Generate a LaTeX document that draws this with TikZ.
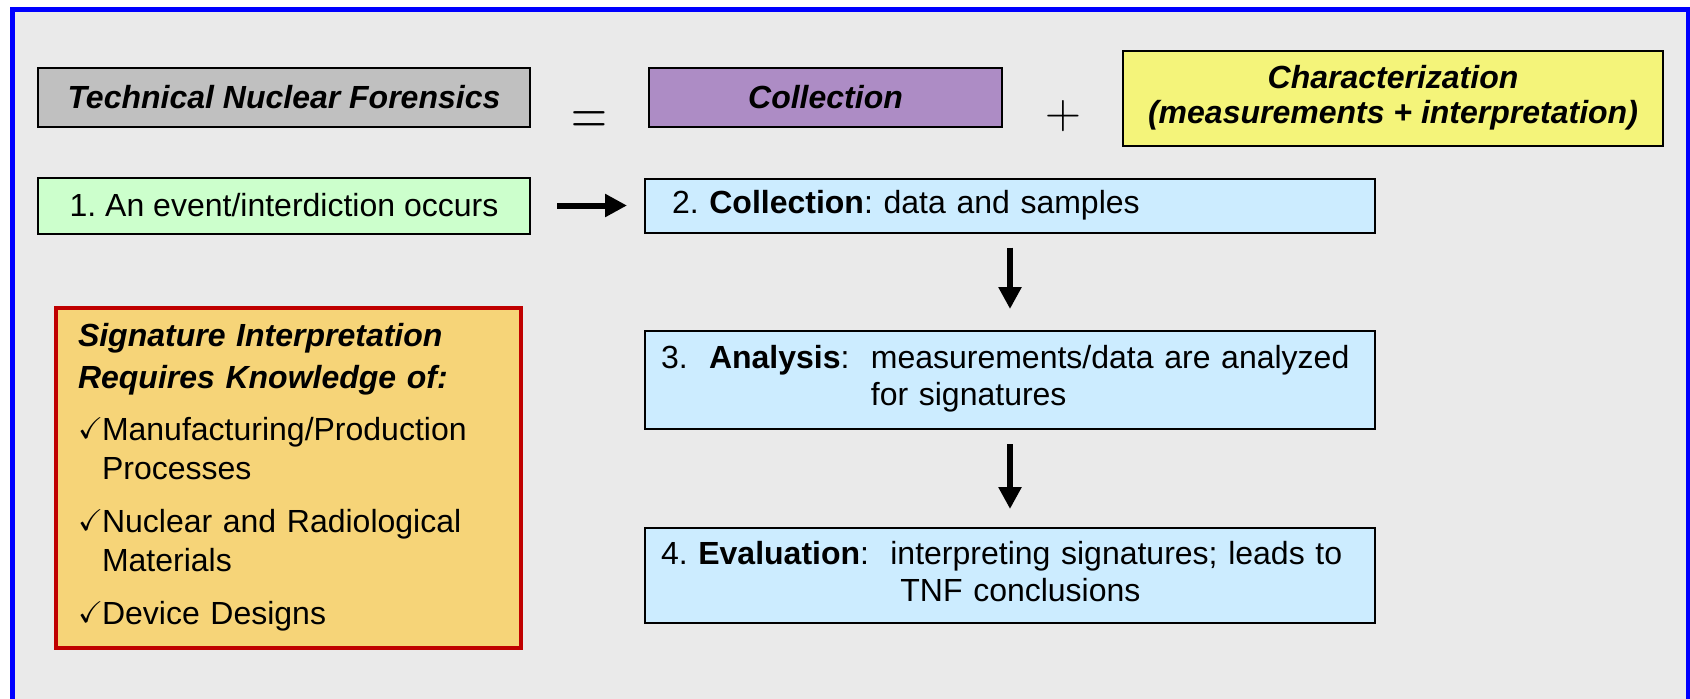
\documentclass[tikz,border=0pt]{standalone}
\usepackage[no-math]{fontspec}
\setmainfont{Liberation Sans}
\usepackage{amssymb}
\usepackage{graphicx}
\usetikzlibrary{arrows.meta}
\definecolor{bgfill}{HTML}{EAEAEA}
\definecolor{frameblue}{HTML}{0000FF}
\definecolor{tnfgray}{HTML}{C0C0C0}
\definecolor{collpurple}{HTML}{AD8CC5}
\definecolor{charyellow}{HTML}{F4F47A}
\definecolor{eventgreen}{HTML}{CCFFCC}
\definecolor{stepblue}{HTML}{CCECFF}
\definecolor{knoworange}{HTML}{F6D478}
\definecolor{knowred}{HTML}{C00000}
\newcommand{\chk}{\makebox[12pt][l]{\raisebox{1pt}{\fontsize{15}{15}\selectfont$\checkmark$}}}
\begin{document}
\frenchspacing
\begin{tikzpicture}[x=0.5pt,y=-0.5pt,
  every node/.style={font=\fontsize{16}{18.5}\selectfont},
  box/.style={draw=black, line width=1pt, inner sep=0pt, align=center},
  stepbox/.style={box, fill=stepblue, text width=349pt, inner xsep=8pt, align=left},
  flow/.style={line width=3pt, -{Triangle[length=11pt,width=11pt]}}]
\useasboundingbox (0,0) rectangle (1690,698);
\clip (0,0) rectangle (1690,698);
\fill[bgfill] (12,9) rectangle (1688,760);
\draw[frameblue, line width=2.5pt] (12,760) -- (12,9) -- (1688,9) -- (1688,760);

\node[box, fill=tnfgray, minimum width=246pt, minimum height=29.5pt] (tnf) at (284,97.5) {\textbf{\textit{Technical Nuclear Forensics}}};
\node (eq) at (589,124) {\scalebox{1}[1.35]{\fontsize{25}{25}\selectfont$=$}};
\node[box, fill=collpurple, minimum width=176.5pt, minimum height=29.5pt] (coll) at (825.5,97.5) {\textbf{\textit{Collection}}};
\node (plus) at (1063,116) {\fontsize{27}{27}\selectfont$+$};
\node[box, fill=charyellow, minimum width=270pt, minimum height=47.5pt, font=\fontsize{16}{17.5}\selectfont] (char) at (1393,98) {\textbf{\textit{Characterization}}\\\textbf{\textit{(measurements + interpretation)}}};

\node[box, fill=eventgreen, minimum width=246pt, minimum height=28pt] (event) at (284,205.5) {1. An event/interdiction occurs};
\node[stepbox, minimum height=27pt] (collect) at (1010,205.5) {\hspace*{5.5pt}2. \textbf{Collection}: data and samples};
\node[stepbox, minimum height=49pt] (analysis) at (1010,380) {\begin{tabular}{@{}l@{}l@{}}3.~~\textbf{Analysis}:~~ & measurements/data are analyzed\\ & for signatures\end{tabular}};
\node[stepbox, minimum height=47.5pt] (eval) at (1010,575.5) {\begin{tabular}{@{}l@{}l@{}}4. \textbf{Evaluation}:~~ & interpreting signatures; leads to\\ & \hspace{5pt}TNF conclusions\end{tabular}};

\node[draw=knowred, line width=2pt, fill=knoworange, minimum width=232.5pt, minimum height=170pt, text width=210.5pt, inner xsep=11pt, inner ysep=0pt, align=left, font=\fontsize{16}{19.5}\selectfont] (know) at (288.5,478) {\begin{tabular}{@{}l@{}l@{}}
\multicolumn{2}{@{}l@{}}{\textbf{\textit{Signature Interpretation}}}\\[1.5pt]
\multicolumn{2}{@{}l@{}}{\textbf{\textit{Requires Knowledge of:}}}\\[6.5pt]
\chk & Manufacturing/Production\\
 & Processes\\[7pt]
\chk & Nuclear and Radiological\\
 & Materials\\[7pt]
\chk & Device Designs
\end{tabular}};

\draw[flow, shorten <=13pt, shorten >=8.5pt] (event.east) -- (collect.west);
\draw[flow, shorten <=7pt, shorten >=10.5pt] (collect.south) -- (analysis.north);
\draw[flow, shorten <=7pt, shorten >=9pt] (analysis.south) -- (eval.north);
\end{tikzpicture}
\end{document}
